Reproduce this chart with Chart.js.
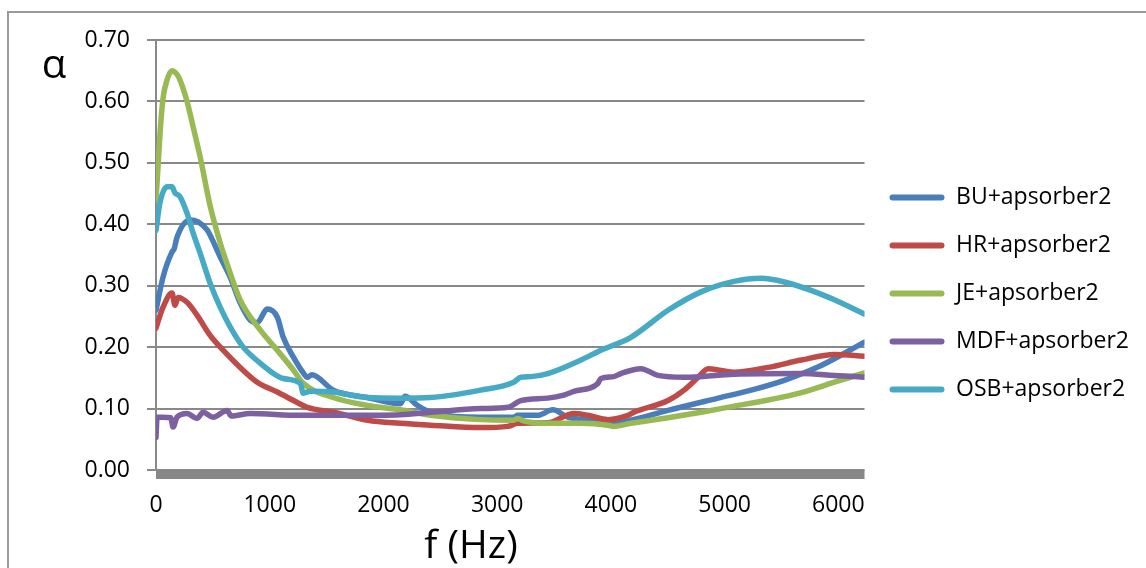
<!DOCTYPE html>
<html>
<head>
<meta charset="utf-8">
<script src="https://cdn.jsdelivr.net/npm/chart.js@4.4.0/dist/chart.umd.min.js"></script>
<style>
html,body{margin:0;padding:0;background:#fff;overflow:hidden}
#frame{position:absolute;left:7px;top:11px;width:1200px;height:600px;border-left:2px solid #9a9a9a;border-top:2px solid #9a9a9a}
#wrap{position:absolute;left:0;top:0;width:1146px;height:568px}
</style>
</head>
<body>
<div id="frame"></div>
<div id="wrap"><canvas id="c" width="1146" height="568"></canvas></div>
<script>
// series names + colours (Excel style)
const seriesNames = ["BU+apsorber2", "HR+apsorber2", "JE+apsorber2", "MDF+apsorber2", "OSB+apsorber2"];
const seriesColors = ["#4a7ebb", "#be4b48", "#98b954", "#7d60a0", "#46aac5"];

// frequency (Hz) and absorption coefficient
const buF = [0, 62, 141, 160, 185, 300, 370, 449, 564, 652, 740, 828, 890, 978, 1066, 1119, 1207, 1295, 1330, 1370, 1559, 1859, 2150, 2190, 2300, 2414, 2855, 3145, 3181, 3357, 3489, 3621, 3797, 4026, 4176, 4502, 4943, 5233, 5524, 5824, 6053, 6229];
const buA = [0.26, 0.314, 0.355, 0.36, 0.379, 0.407, 0.404, 0.391, 0.347, 0.314, 0.272, 0.244, 0.24, 0.262, 0.249, 0.216, 0.184, 0.158, 0.151, 0.155, 0.13, 0.118, 0.108, 0.12, 0.105, 0.094, 0.086, 0.086, 0.089, 0.089, 0.098, 0.086, 0.081, 0.076, 0.081, 0.097, 0.117, 0.13, 0.146, 0.168, 0.19, 0.208];

const hrF = [0, 62, 141, 167, 194, 273, 361, 476, 590, 740, 890, 1066, 1242, 1330, 1559, 1859, 2150, 2414, 2855, 3093, 3181, 3445, 3674, 3797, 3974, 4150, 4203, 4502, 4643, 4767, 4855, 4969, 5084, 5383, 5674, 5965, 6229];
const hrA = [0.231, 0.265, 0.288, 0.268, 0.281, 0.273, 0.252, 0.219, 0.195, 0.167, 0.143, 0.127, 0.11, 0.102, 0.094, 0.081, 0.076, 0.073, 0.069, 0.071, 0.076, 0.077, 0.092, 0.089, 0.082, 0.089, 0.094, 0.113, 0.13, 0.151, 0.165, 0.162, 0.159, 0.167, 0.179, 0.188, 0.185];

const jeF = [0, 20, 40, 62, 97, 141, 185, 211, 273, 326, 388, 476, 564, 626, 740, 916, 1066, 1207, 1295, 1559, 1859, 2150, 2414, 2855, 3145, 3181, 3230, 3445, 3736, 3974, 4026, 4176, 4502, 4793, 5084, 5383, 5674, 5965, 6229];
const jeA = [0.44, 0.5, 0.56, 0.605, 0.635, 0.65, 0.644, 0.635, 0.6, 0.559, 0.51, 0.43, 0.37, 0.335, 0.277, 0.228, 0.195, 0.163, 0.141, 0.118, 0.105, 0.098, 0.089, 0.082, 0.081, 0.084, 0.08, 0.076, 0.076, 0.073, 0.071, 0.076, 0.085, 0.094, 0.104, 0.114, 0.126, 0.143, 0.158];

const mdfF = [0, 10, 62, 130, 150, 185, 273, 361, 414, 502, 626, 660, 828, 1269, 1709, 2150, 2414, 2855, 3093, 3207, 3445, 3586, 3674, 3885, 3912, 4026, 4088, 4264, 4414, 4643, 5084, 5674, 5965, 6229];
const mdfA = [0.053, 0.086, 0.086, 0.085, 0.07, 0.086, 0.092, 0.084, 0.094, 0.086, 0.097, 0.088, 0.092, 0.089, 0.089, 0.09, 0.094, 0.1, 0.102, 0.113, 0.117, 0.122, 0.128, 0.141, 0.149, 0.152, 0.157, 0.165, 0.154, 0.151, 0.156, 0.157, 0.154, 0.151];

const osbF = [0, 35, 97, 141, 167, 211, 273, 326, 388, 476, 564, 652, 767, 916, 1119, 1269, 1295, 1357, 1559, 1859, 2150, 2414, 2855, 3145, 3207, 3295, 3445, 3736, 3912, 4176, 4502, 4793, 5084, 5322, 5524, 5824, 5965, 6229];
const osbA = [0.39, 0.435, 0.461, 0.461, 0.451, 0.445, 0.418, 0.386, 0.353, 0.304, 0.265, 0.233, 0.2, 0.174, 0.149, 0.141, 0.125, 0.128, 0.127, 0.118, 0.117, 0.118, 0.13, 0.143, 0.151, 0.152, 0.157, 0.179, 0.195, 0.216, 0.26, 0.29, 0.307, 0.312, 0.306, 0.288, 0.277, 0.254];

const xTicks = [0, 1000, 2000, 3000, 4000, 5000, 6000];
const xMax = 6230;

const allF = [buF, hrF, jeF, mdfF, osbF];
const allA = [buA, hrA, jeA, mdfA, osbA];

let datasets = [];
seriesNames.forEach(function(name, i){
    datasets.push({
        label: name,
        data: allF[i].map((f, k) => ({x: f, y: allA[i][k]})),
        borderColor: seriesColors[i],
        backgroundColor: seriesColors[i],
        borderWidth: 5.5,
        borderCapStyle: 'round',
        borderJoinStyle: 'round',
        pointRadius: 0,
        cubicInterpolationMode: 'monotone',
        fill: false,
        order: seriesNames.length - 1 - i   // last series on top, like Excel
    });
});

const grey = '#898989';
const font = 'Open Sans';

// thick grey bar under the x axis + axis titles
const extras = {
    id: 'extras',
    beforeDatasetsDraw(chart){
        const ctx = chart.ctx, a = chart.chartArea;
        const y0 = chart.scales.y.getPixelForValue(0);
        ctx.save();
        ctx.fillStyle = '#888888';
        ctx.fillRect(a.left, y0, a.right - a.left, 9);
        ctx.restore();
    },
    afterDraw(chart){
        const ctx = chart.ctx;
        ctx.save();
        ctx.fillStyle = '#000';
        ctx.textBaseline = 'alphabetic';
        ctx.textAlign = 'center';
        ctx.font = '40px "' + font + '"';
        ctx.fillText('α', 54, 78);
        ctx.font = '39px "' + font + '"';
        ctx.fillText('f (Hz)', 471, 558);
        ctx.restore();
    }
};

new Chart(document.getElementById('c'), {
    type: 'line',
    data: {datasets: datasets},
    plugins: [extras],
    options: {
        responsive: false,
        animation: false,
        devicePixelRatio: 1,
        layout: {padding: {left: 0, top: 40, right: 7, bottom: 21}},
        plugins: {
            tooltip: {enabled: false},
            legend: {
                position: 'right',
                align: 'center',
                labels: {
                    font: {family: font, size: 23},
                    color: '#000',
                    boxWidth: 55,
                    boxHeight: 6,
                    padding: 25,
                    useBorderRadius: true,
                    borderRadius: 3,
                    generateLabels(chart){
                        return chart.data.datasets.map((ds, i) => ({
                            text: ds.label, fillStyle: ds.borderColor, strokeStyle: ds.borderColor,
                            lineWidth: 0, datasetIndex: i, hidden: false, borderRadius: 3
                        }));
                    }
                }
            }
        },
        scales: {
            x: {
                type: 'linear',
                min: 0, max: xMax,
                afterFit(scale){ scale.height = 77; },
                afterBuildTicks(scale){ scale.ticks = xTicks.map(v => ({value: v})); },
                grid: {display: false, drawTicks: false},
                border: {display: false},
                ticks: {font: {family: font, size: 23}, color: '#000', padding: 22, maxRotation: 0,
                        callback: v => String(v)}
            },
            y: {
                min: 0, max: 0.7,
                afterFit(scale){ scale.width = 156; },
                grid: {color: grey, lineWidth: 2, tickLength: 9, tickColor: grey, drawTicks: true},
                border: {color: grey, width: 2},
                ticks: {
                    stepSize: 0.1,
                    font: {family: font, size: 23}, color: '#000', padding: 17,
                    callback: v => v.toFixed(2)
                }
            }
        }
    }
});
</script>
</body>
</html>
